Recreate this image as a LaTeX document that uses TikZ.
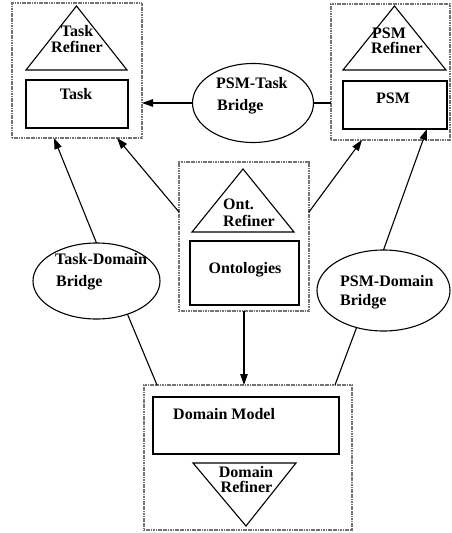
\documentclass[tikz,border=0pt]{standalone}
\usepackage{fontspec}
\setmainfont{Liberation Serif}
\usetikzlibrary{arrows.meta,shapes.geometric}

\tikzset{
  frame/.style={draw=black!55, line width=1.4pt, dash pattern=on 1.2pt off 0.5pt,
    rectangle, inner sep=0pt, outer sep=0pt},
  part/.style={draw, line width=1.1pt, rectangle, inner sep=0pt, outer sep=0pt},
  bridge/.style={draw, line width=1.1pt, ellipse, inner sep=0pt, outer sep=0pt},
  refiner/.style={draw, line width=1.1pt, line join=miter},
  lbl/.style={inner sep=0pt, font=\fontsize{16}{18}\selectfont\bfseries},
  link/.style={line width=1.1pt},
  arr/.style={link, -{Triangle[length=11pt,width=7.5pt]}}
}

\begin{document}
\begin{tikzpicture}[x=1pt,y=-1pt]
\useasboundingbox (0,0) rectangle (452,533);

% enclosing frames
\node[frame, minimum width=130pt, minimum height=135pt] (taskbox) at (77,70.5) {};
\node[frame, minimum width=119pt, minimum height=136pt] (psmbox)  at (390.5,72) {};
\node[frame, minimum width=130pt, minimum height=149pt] (ontbox)  at (244,236.5) {};
\node[frame, minimum width=208pt, minimum height=145pt] (dombox)  at (248,457.5) {};

% model rectangles
\node[part, minimum width=102pt, minimum height=48pt] (task) at (77,104) {};
\node[part, minimum width=104pt, minimum height=48pt] (psm)  at (395,105) {};
\node[part, minimum width=109pt, minimum height=64pt] (onto) at (244.5,273) {};
\node[part, minimum width=186pt, minimum height=57pt] (dmod) at (246,425.5) {};

% refiner triangles
\draw[refiner] (26,70) -- (76.5,6) -- (127,70) -- cycle;
\draw[refiner] (343,70) -- (394.5,6) -- (446,70) -- cycle;
\draw[refiner] (192,232) -- (243,169) -- (294,232) -- cycle;
\draw[refiner] (193,463) -- (296,463) -- (246,526) -- cycle;

% bridges
\node[bridge, minimum width=121pt, minimum height=79pt] (ptb)  at (253,103) {};
\node[bridge, minimum width=127pt, minimum height=76pt] (tdb)  at (96.5,281) {};
\node[bridge, minimum width=133pt, minimum height=81pt] (psdb) at (383.5,290.5) {};

% labels
\node[lbl, anchor=base] (tRefA) at (77,36) {Task};
\node[lbl, anchor=base] (tRefB) at (77,52) {Refiner};
\node[lbl, anchor=base] (tTxt)  at (76,99) {Task};
\node[lbl, anchor=base west] (pRefA) at (372,38) {PSM};
\node[lbl, anchor=base west] (pRefB) at (371,53) {Refiner};
\node[lbl, anchor=base] (pTxt)  at (393,103) {PSM};
\node[lbl, anchor=base west] (oRefA) at (223,209) {Ont.};
\node[lbl, anchor=base west] (oRefB) at (223,226) {Refiner};
\node[lbl, anchor=base] (oTxt)  at (245,273) {Ontologies};
\node[lbl, anchor=base west] (dTxt) at (173,419) {Domain Model};
\node[lbl, anchor=base] (dRefA) at (246,477) {Domain};
\node[lbl, anchor=base] (dRefB) at (246.5,492) {Refiner};
\node[lbl, anchor=base west] (ptbA) at (216,88) {PSM-Task};
\node[lbl, anchor=base west] (ptbB) at (217,110) {Bridge};
\node[lbl, anchor=base west] (tdbA) at (55,264) {Task-Domain};
\node[lbl, anchor=base west] (tdbB) at (56,286) {Bridge};
\node[lbl, anchor=base west] (psdbA) at (340,286) {PSM-Domain};
\node[lbl, anchor=base west] (psdbB) at (340,305) {Bridge};

% connector end points on the frames
\coordinate (taskInL) at (54,138);
\coordinate (taskInR) at (117,138);
\coordinate (psmIn)   at (362,140);
\coordinate (psmRect) at (427,129);
\coordinate (ontL)    at (179,212);
\coordinate (ontR)    at (309,212);
\coordinate (domL)    at (157,385);
\coordinate (domR)    at (335,385);

% connectors
\draw[arr]  (ptb.west) -- (taskbox.east |- ptb.west);
\draw[link] (ptb.east) -- (psmbox.west |- ptb.east);
\draw[arr]  (tdb.north) -- (taskInL);
\draw[arr]  (ontL) -- (taskInR);
\draw[arr]  (ontR) -- (psmIn);
\draw[arr]  (psdb.north) -- (psmRect);
\draw[arr]  (ontbox.south) -- (ontbox.south |- dombox.north);
\draw[link] (tdb.-47) -- (domL);
\draw[link] (psdb.-126) -- (domR);
\end{tikzpicture}
\end{document}
